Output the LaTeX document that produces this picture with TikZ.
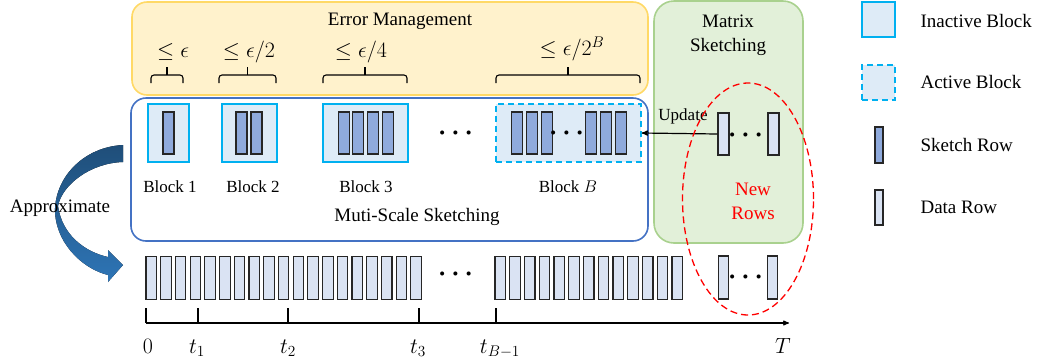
\RequirePackage{fix-cm}
\documentclass[tikz,border=0pt]{standalone}
\usepackage{fontspec}
\setmainfont{Liberation Serif}
\usepackage{xcolor}
\usepackage{tikz}
\usetikzlibrary{arrows, positioning, shapes.geometric}
\usepackage{amsmath}

\definecolor{errfill}{HTML}{FFF2CC}
\definecolor{errline}{HTML}{FFD966}
\definecolor{mxfill}{HTML}{E2F0D9}
\definecolor{mxline}{HTML}{A9D18E}
\definecolor{mssline}{HTML}{4472C4}
\definecolor{blkfill}{HTML}{DEEBF7}
\definecolor{blkline}{HTML}{00B0F0}
\definecolor{skfill}{HTML}{8FAADC}
\definecolor{datfill}{HTML}{DAE3F3}
\definecolor{rowline}{HTML}{262626}
\definecolor{apxtop}{HTML}{1F4E79}
\definecolor{apxbot}{HTML}{2E75B6}

\begin{document}
\begin{tikzpicture}[x=1pt, y=-1pt,
				>=stealth',
				font=\fontsize{19}{24}\selectfont,
				panel/.style={draw, rounded corners=15pt, line width=1.6pt, inner sep=0pt},
				blk/.style={draw=blkline, fill=blkfill, line width=1.6pt, minimum height=58pt, inner sep=0pt},
				skrow/.style={draw=rowline, fill=skfill, line width=1.1pt, minimum width=11pt, minimum height=42pt, inner sep=0pt},
				datrow/.style={draw=rowline, fill=datfill, line width=1.1pt, minimum width=10.5pt, minimum height=43pt, inner sep=0pt},
				hdots/.style={font=\fontsize{26}{26}\selectfont\boldmath, inner sep=0pt},
				small/.style={font=\fontsize{17}{20}\selectfont},
				bound/.style={font=\fontsize{22}{24}\selectfont},
				brc/.style={line width=1.1pt, rounded corners=3pt}]
				
				\useasboundingbox (0,0) rectangle (1041,360);
				
				% panels
				\node[panel, draw=errline, fill=errfill, minimum width=516pt, minimum height=93pt] (err) at (390,48.5) {};
				\node[panel, draw=mssline, fill=white, minimum width=517pt, minimum height=143pt] (mss) at (389.5,169.5) {};
				\node[panel, draw=mxline, fill=mxfill, rounded corners=20pt, minimum width=149pt, minimum height=242pt] (mx) at (728.5,122) {};
				\node (errtitle) at (400,21) {Error Management};
				\node[align=center] (mxtitle) at (728,35) {Matrix\\Sketching};
				\node (msstitle) at (417,217) {Muti-Scale Sketching};
				
				% error bounds
				\foreach \a/\b in {151/183,219/276,323/407,496/640} {
					\draw[brc] (\a,83) -- (\a,75) -- (\b,75) -- (\b,83);
					\draw[line width=1.1pt] ({(\a+\b)/2},75) -- ({(\a+\b)/2},67);
				}
				\node[bound] (e1) at (173,52) {$\leq\epsilon$};
				\node[bound] (e2) at (249,52) {$\leq\epsilon/2$};
				\node[bound] (e3) at (361,52) {$\leq\epsilon/4$};
				\node[bound] (eB) at (572,49) {$\leq\epsilon/2^B$};
				
				% blocks
				\node[blk, minimum width=41pt] (b1) at (168.5,133) {};
				\node[blk, minimum width=55pt] (b2) at (249.5,133) {};
				\node[blk, minimum width=85pt] (b3) at (365.5,133) {};
				\node[blk, dash pattern=on 6pt off 4pt, minimum width=145pt] (bB) at (568.5,133) {};
				\node[skrow] (s11) at (168.5,133) {};
				\foreach \x [count=\i] in {241.5,256.5}
					\node[skrow] (s2\i) at (\x,133) {};
				\foreach \x [count=\i] in {343.7,358.2,372.7,387.7}
					\node[skrow] (s3\i) at (\x,133) {};
				\foreach \x [count=\i] in {517,532,546.8,591.3,606,620.7}
					\node[skrow] (sB\i) at (\x,133) {};
				\node[hdots] (dotsB) at (569,133) {$\cdots$};
				\node[hdots] (dots3) at (458,133) {$\cdots$};
				\node[small] (l1) at (170,187) {Block 1};
				\node[small] (l2) at (253,187) {Block 2};
				\node[small] (l3) at (366,187) {Block 3};
				\node[small] (lB) at (568,187) {Block $B$};
				
				% new rows
				\node[datrow, minimum width=11pt, minimum height=42pt] (n1) at (723.5,134) {};
				\node[datrow, minimum width=11pt, minimum height=42pt] (n2) at (773.5,134) {};
				\node[hdots] (dotsn) at (748,135) {$\cdots$};
				\draw[->, line width=1.2pt] (n1.west) -- (bB.east);
				\node[small] (upd) at (683,116) {Update};
				\node[red, align=center] (newrows) at (753,201) {New\\Rows};
				
				% data stream
				\foreach \i in {0,...,18}
					\node[datrow] (r\i) at ({151.2+14.72*\i},278) {};
				\foreach \i in {0,...,12}
					\node[datrow] (q\i) at ({500.2+14.75*\i},278) {};
				\node[hdots] (dotsr) at (458,274) {$\cdots$};
				\node[datrow] (m1) at (723.5,277.5) {};
				\node[datrow] (m2) at (772.5,277.5) {};
				\node[hdots] (dotsm) at (748,277) {$\cdots$};
				
				% time axis
				\coordinate (o) at (146,323);
				\coordinate (tend) at (789,323);
				\draw[->, line width=1.1pt] (o) -- (tend);
				\foreach \x in {146,198,288,419,496}
					\draw[line width=1.1pt] (\x,323) -- (\x,308);
				\foreach \x/\lab in {148/0,197/t_1,288/t_2,418/t_3,500/t_{B-1},783/T}
					\node[bound, anchor=base] at (\x,353) {$\lab$};
				
				% approximate arrow
				\fill[top color=apxtop, bottom color=apxbot]
					(123,145) .. controls (85,147) and (57,175) .. (55,208)
					.. controls (54,240) and (80,268) .. (108,275)
					-- (108,282) -- (123,265) -- (108,250) -- (108,257)
					.. controls (85,252) and (62,235) .. (58,206)
					.. controls (62,185) and (90,163) .. (123,162) -- cycle;
				\node (apx) at (60,208) {Approximate};
				
				\node[draw=red, ellipse, dash pattern=on 7pt off 4pt, line width=1.3pt, minimum width=131pt, minimum height=232pt] (newell) at (748,199) {};
				
				% legend
				\node[blk, minimum width=33pt, minimum height=35pt] (leginact) at (878.5,19.5) {};
				\node[blk, dash pattern=on 6pt off 4pt, minimum width=33pt, minimum height=35pt] (legact) at (878.5,82.5) {};
				\node[skrow, minimum width=8pt, minimum height=36pt] (legsk) at (879,145) {};
				\node[datrow, minimum width=8pt, minimum height=35pt] (legdat) at (879,207.5) {};
				\node[anchor=west] at (917,21) {Inactive Block};
				\node[anchor=west] at (917,82) {Active Block};
				\node[anchor=west] at (917,145) {Sketch Row};
				\node[anchor=west] at (917,207) {Data Row};
			\end{tikzpicture}
\end{document}
